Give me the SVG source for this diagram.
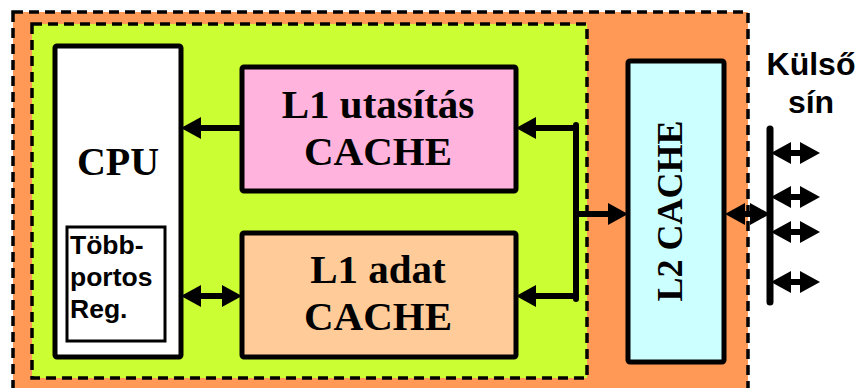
<svg xmlns="http://www.w3.org/2000/svg" width="858" height="388" viewBox="0 0 858 388">
  <defs>
    <style>
      .zone { stroke: #000; stroke-width: 3.5; stroke-dasharray: 10 6; }
      .box { stroke: #000; stroke-width: 5; }
      .wire { stroke: #000; stroke-width: 6; fill: none; }
      .serif { font-family: "Liberation Serif", "Times New Roman", serif; font-weight: bold; fill: #000; }
      .sans { font-family: "Liberation Sans", Arial, sans-serif; font-weight: bold; fill: #000; }
    </style>
    <marker id="head" viewBox="0 0 20 22" markerWidth="20" markerHeight="22" refX="8" refY="11" markerUnits="userSpaceOnUse" orient="auto-start-reverse">
      <path d="M0,0 L20,11 L0,22 z" fill="#000"/>
    </marker>
  </defs>

  <!-- chip boundary and on-die core area -->
  <rect id="chip" class="zone" x="13" y="12" width="735" height="390" fill="#ff9955"/>
  <rect id="core" class="zone" x="32" y="24" width="555" height="354" fill="#ccff33"/>

  <g id="cpu">
    <rect class="box" x="55" y="46" width="126" height="311" rx="2" fill="#fff"/>
    <text class="serif" x="118" y="175" font-size="40" text-anchor="middle">CPU</text>
  </g>

  <g id="regfile">
    <rect x="67" y="227" width="98" height="114" fill="#fff" stroke="#000" stroke-width="3"/>
    <text class="sans" font-size="26.5" x="70" y="254">Több-</text>
    <text class="sans" font-size="26.5" x="70" y="286">portos</text>
    <text class="sans" font-size="26.5" x="70" y="318">Reg.</text>
  </g>

  <g id="l1i">
    <rect class="box" x="242" y="67" width="274" height="124" rx="2" fill="#ffb3dd"/>
    <text class="serif" x="378" y="118" font-size="41" text-anchor="middle">L1 utasítás</text>
    <text class="serif" x="378" y="165" font-size="41" text-anchor="middle">CACHE</text>
  </g>

  <g id="l1d">
    <rect class="box" x="242" y="233" width="274" height="124" rx="2" fill="#ffcc99"/>
    <text class="serif" x="378" y="283" font-size="41" text-anchor="middle">L1 adat</text>
    <text class="serif" x="378" y="330" font-size="41" text-anchor="middle">CACHE</text>
  </g>

  <g id="l2">
    <rect class="box" x="628" y="61" width="96" height="301" rx="2" fill="#ccffff"/>
    <text class="serif" font-size="36" text-anchor="middle" transform="translate(682 211) rotate(-90)">L2 CACHE</text>
  </g>

  <g id="bus-label">
    <text class="sans" x="811" y="75" font-size="32" text-anchor="middle">Külső</text>
    <text class="sans" x="811" y="113" font-size="32" text-anchor="middle">sín</text>
  </g>

  <g id="connectors">
    <!-- L1 instruction cache to CPU -->
    <line class="wire" x1="242" y1="128" x2="193" y2="128" marker-end="url(#head)"/>
    <!-- CPU <-> L1 data cache -->
    <line class="wire" x1="193" y1="296" x2="230" y2="296" marker-start="url(#head)" marker-end="url(#head)"/>
    <!-- L2 side fan-out to both L1 caches -->
    <line class="wire" x1="576" y1="125" x2="576" y2="299" stroke-linecap="round"/>
    <line class="wire" x1="576" y1="128" x2="528" y2="128" marker-end="url(#head)"/>
    <line class="wire" x1="576" y1="296" x2="528" y2="296" marker-end="url(#head)"/>
    <line class="wire" x1="576" y1="214" x2="616" y2="214" marker-end="url(#head)"/>
    <!-- L2 <-> external bus -->
    <line class="wire" x1="737" y1="214" x2="758" y2="214" marker-start="url(#head)" marker-end="url(#head)"/>
    <line x1="770" y1="129" x2="770" y2="302" stroke="#000" stroke-width="7" stroke-linecap="round"/>
    <line class="wire" x1="783" y1="153" x2="808" y2="153" marker-start="url(#head)" marker-end="url(#head)"/>
    <line class="wire" x1="783" y1="197" x2="808" y2="197" marker-start="url(#head)" marker-end="url(#head)"/>
    <line class="wire" x1="783" y1="232" x2="808" y2="232" marker-start="url(#head)" marker-end="url(#head)"/>
    <line class="wire" x1="783" y1="282" x2="808" y2="282" marker-start="url(#head)" marker-end="url(#head)"/>
  </g>
</svg>
